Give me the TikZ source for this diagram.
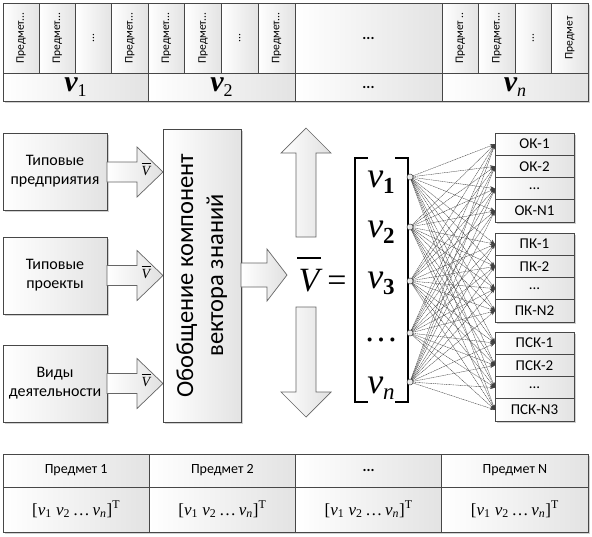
\documentclass[tikz,border=0pt]{standalone}
\usepackage{fontspec}
\setmainfont{Carlito}
\newfontfamily\tnr{Liberation Serif}
\usetikzlibrary{arrows.meta}
\newcommand\fs[1]{\fontsize{#1}{#1}\selectfont}
\newcommand\cellbox[7][]{%
  \pgfmathsetmacro\cbw{#5-#3}%
  \pgfmathsetmacro\cbh{#6-#4}%
  \node[cell,minimum width=\cbw pt,minimum height=\cbh pt,#1] (#2) at ({(#3+#5)/2},{(#4+#6)/2}) {#7};}
\newcommand\rarr[6]{\path[blk] (#1,{#4-#5}) -- (#2,{#4-#5}) -- (#2,{#4-#6}) -- (#3,#4) -- (#2,{#4+#6}) -- (#2,{#4+#5}) -- (#1,{#4+#5}) -- cycle;}
\newcommand\varr[6]{\path[blk] ({#4-#5},#1) -- ({#4-#5},#2) -- ({#4-#6},#2) -- (#4,#3) -- ({#4+#6},#2) -- ({#4+#5},#2) -- ({#4+#5},#1) -- cycle;}
\newcommand\topv[1]{{\tnr\fs{30}\bfseries\itshape v}{\tnr\fs{18}\raisebox{-5pt}{#1}}}
\newcommand\brv[1]{{\tnr\fs{36}\itshape v}{\tnr\fs{23}\bfseries\raisebox{-6pt}{#1}}}
\newcommand\rowv{{\tnr\fs{17}[\textit{v}\textsubscript{1}\ \textit{v}\textsubscript{2}\,\dots\,\textit{v}\textsubscript{\textit{n}}]\textsuperscript{T}}}
\newcommand\vrot[1]{\rotatebox{90}{\fs{11.5}#1}}

\begin{document}
\begin{tikzpicture}[x=1pt,y=-1pt,
  cell/.style={draw=black!72,line width=0.8pt,left color=white,right color=black!11,inner sep=0pt,outer sep=0pt,align=center,font=\fs{15}},
  blk/.style={draw=black!60,line width=0.7pt,left color=white,right color=black!12},
  shad/.style={fill=black!18},
  bar/.style={line width=#1,line cap=butt},
  jdot/.style={circle,draw=black!75,fill=black!8,minimum size=6pt,inner sep=0pt,line width=0.5pt},
  conn/.style={draw=black!75,line width=0.4pt,dash pattern=on 1.2pt off 0.6pt,-{Stealth[length=5pt,width=3.5pt]}},
  brk/.style={line width=2pt,line cap=butt}]
\useasboundingbox[fill=white] (0,0) rectangle (592,536);

% shadows
\fill[shad] (5,5) rectangle (590,103);
\fill[shad] (5,135) rectangle (109,212);
\fill[shad] (5,239) rectangle (109,316);
\fill[shad] (5,347) rectangle (109,424);
\fill[shad] (165,131) rectangle (243,424);
\fill[shad] (497,135) rectangle (576,224);
\fill[shad] (497,235) rectangle (576,324);
\fill[shad] (497,334) rectangle (576,423);
\fill[shad] (5,456) rectangle (590,534);

% top table, row 1
\cellbox{t11}{3}{3}{39.25}{73}{\vrot{Предмет...}}
\cellbox{t12}{39.25}{3}{75.5}{73}{\vrot{Предмет...}}
\cellbox{t13}{75.5}{3}{111.75}{73}{\vrot{...}}
\cellbox{t14}{111.75}{3}{148}{73}{\vrot{Предмет...}}
\cellbox{t21}{148}{3}{184.75}{73}{\vrot{Предмет...}}
\cellbox{t22}{184.75}{3}{221.5}{73}{\vrot{Предмет...}}
\cellbox{t23}{221.5}{3}{258.25}{73}{\vrot{...}}
\cellbox{t24}{258.25}{3}{295}{73}{\vrot{Предмет...}}
\cellbox{t3}{295}{3}{442}{73}{\fs{15}\textbf{...}}
\cellbox{t41}{442}{3}{478.5}{73}{\vrot{Предмет ..}}
\cellbox{t42}{478.5}{3}{515}{73}{\vrot{Предмет...}}
\cellbox{t43}{515}{3}{551.5}{73}{\vrot{...}}
\cellbox{t44}{551.5}{3}{588}{73}{\vrot{Предмет}}
% top table, row 2
\cellbox{b1}{3}{73}{148}{101}{\topv{1}}
\cellbox{b2}{148}{73}{295}{101}{\topv{2}}
\cellbox{b3}{295}{73}{442}{101}{\fs{15}\textbf{...}}
\cellbox{b4}{442}{73}{588}{101}{\topv{\itshape n}}

% left boxes
\cellbox[font=\fontsize{16}{19}\selectfont]{lb1}{3}{133}{107}{210}{Типовые\\предприятия}
\cellbox[font=\fontsize{16}{19}\selectfont]{lb2}{3}{237}{107}{314}{Типовые\\проекты}
\cellbox[font=\fontsize{16}{19}\selectfont]{lb3}{3}{345}{107}{422}{Виды\\деятельности}

% small arrows
\rarr{107}{137}{163}{172}{10}{25}
\rarr{107}{137}{163}{275.5}{10}{25}
\rarr{107}{137}{163}{383.5}{10}{25}
\node[anchor=base,inner sep=0pt] (vb1) at (146,175) {\tnr\fs{14}\itshape V};
\node[anchor=base,inner sep=0pt] (vb2) at (146,278.5) {\tnr\fs{14}\itshape V};
\node[anchor=base,inner sep=0pt] (vb3) at (146,386.5) {\tnr\fs{14}\itshape V};
\draw[bar=0.8pt] (141.5,163) -- (151,163);
\draw[bar=0.8pt] (141.5,266.5) -- (151,266.5);
\draw[bar=0.8pt] (141.5,374.5) -- (151,374.5);

% central box
\cellbox{cen}{163}{129}{241}{422}{\rotatebox{90}{\fontsize{24.5}{30}\selectfont\begin{tabular}{@{}c@{}}Обобщение компонент\\вектора знаний\end{tabular}}}

% big arrows
\rarr{241}{267}{287}{275}{12}{26}
\varr{237}{153}{128}{306}{10}{25}
\varr{307}{392}{417}{306}{10}{25}

% V = [ ... ]
\node[anchor=base,inner sep=0pt] (Vbig) at (309,291) {\tnr\fs{34}\itshape V};
\draw[bar=2pt] (297,258) -- (321,258);
\node[anchor=base,inner sep=0pt] (eq) at (337,291) {\tnr\fs{34}=};
\draw[brk] (368,158) -- (355,158) -- (355,402) -- (368,402);
\draw[brk] (395,158) -- (408,158) -- (408,402) -- (395,402);
\node[anchor=base] (e1) at (381,187) {\brv{1}};
\node[anchor=base] (e2) at (381,237) {\brv{2}};
\node[anchor=base] (e3) at (381,288) {\brv{3}};
\node[anchor=base] (e4) at (381,341) {\tnr\fs{34}\dots};
\node[anchor=base] (e5) at (381,393) {\brv{\itshape\mdseries n}};
\node[jdot] (c1) at (410,177) {};
\node[jdot] (c2) at (410,227) {};
\node[jdot] (c3) at (410,281) {};
\node[jdot] (c4) at (410,333) {};
\node[jdot] (c5) at (410,382) {};

% right boxes
\cellbox{ok1}{495}{133}{574}{155.25}{ОК-1}
\cellbox{ok2}{495}{155.25}{574}{177.5}{ОК-2}
\cellbox{ok3}{495}{177.5}{574}{199.75}{...}
\cellbox{ok4}{495}{199.75}{574}{222}{ОК-N1}
\cellbox{pk1}{495}{233}{574}{255.25}{ПК-1}
\cellbox{pk2}{495}{255.25}{574}{277.5}{ПК-2}
\cellbox{pk3}{495}{277.5}{574}{299.75}{...}
\cellbox{pk4}{495}{299.75}{574}{322}{ПК-N2}
\cellbox{psk1}{495}{332}{574}{354.25}{ПСК-1}
\cellbox{psk2}{495}{354.25}{574}{376.5}{ПСК-2}
\cellbox{psk3}{495}{376.5}{574}{398.75}{...}
\cellbox{psk4}{495}{398.75}{574}{421}{ПСК-N3}

% connections
\foreach \c in {c1,c2,c3,c4,c5}
  \foreach \r in {ok1,ok2,ok3,ok4,pk1,pk2,pk3,pk4,psk1,psk2,psk3,psk4}
    \draw[conn] (\c) -- (\r.west);

% bottom table
\cellbox[font=\fs{14}]{p1}{3}{454}{149.25}{487}{Предмет 1}
\cellbox[font=\fs{14}]{p2}{149.25}{454}{295.5}{487}{Предмет 2}
\cellbox[font=\fs{15}]{p3}{295.5}{454}{441.75}{487}{\textbf{...}}
\cellbox[font=\fs{14}]{p4}{441.75}{454}{588}{487}{Предмет N}
\cellbox{q1}{3}{487}{149.25}{532}{\rowv}
\cellbox{q2}{149.25}{487}{295.5}{532}{\rowv}
\cellbox{q3}{295.5}{487}{441.75}{532}{\rowv}
\cellbox{q4}{441.75}{487}{588}{532}{\rowv}
\end{tikzpicture}
\end{document}
